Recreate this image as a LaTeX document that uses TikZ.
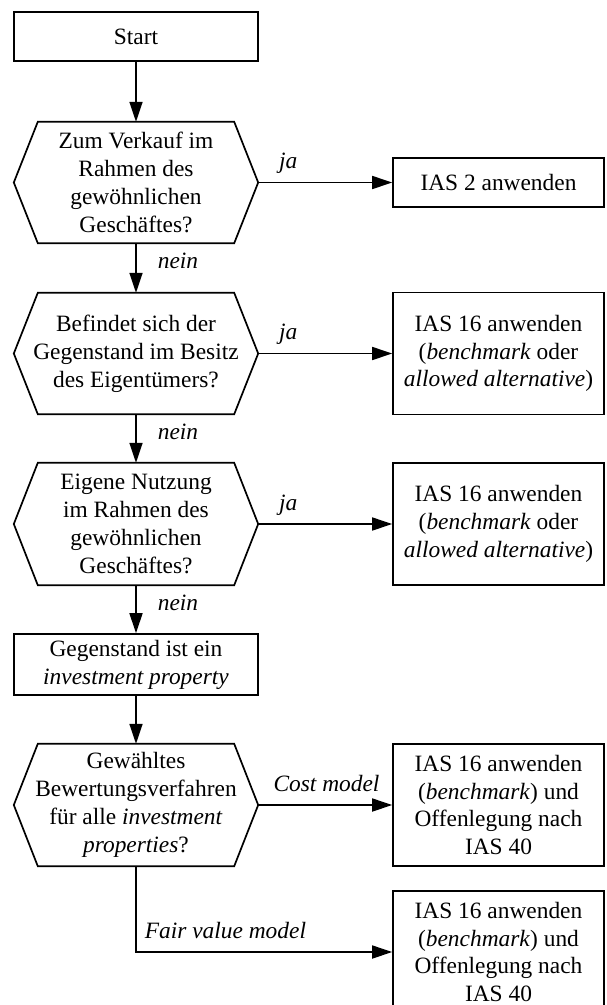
\documentclass[tikz,border=0pt]{standalone}
\usepackage{fontspec}
\setmainfont{Liberation Serif}
\usetikzlibrary{arrows.meta}
\newcommand{\diagfont}{\fontsize{23.4pt}{27.8pt}\selectfont}
\begin{document}
\begin{tikzpicture}[x=1pt,y=-1pt,
  every node/.style={font=\diagfont, align=center, inner sep=0pt},
  flowline/.style={line width=1.7pt, -{Triangle[length=20pt,width=13pt]}},
  procbox/.style={draw, line width=1.7pt, minimum width=211pt},
  decision/.style={minimum width=244pt},
  branchlabel/.style={font=\diagfont\itshape},
  yeslabel/.style={branchlabel, pos=0, anchor=base west, xshift=20pt, yshift=14pt},
  nolabel/.style={branchlabel, pos=.52, anchor=base west, xshift=21pt},
]
\path[use as bounding box, fill=white] (0,0) rectangle (606,1005);
\clip (0,0) rectangle (606,1005);

% main column
\node[procbox, minimum width=244pt, minimum height=49pt] (start) at (136,36.5) {Start};
\node[decision, minimum height=121pt] (q1) at (136,182.5)
  {Zum Verkauf im\\Rahmen des\\gewöhnlichen\\Geschäftes?};
\node[decision, minimum height=121pt] (q2) at (136,353.5)
  {Befindet sich der\\Gegenstand im Besitz\\des Eigentümers?};
\node[decision, minimum height=122pt] (q3) at (136,524)
  {Eigene Nutzung\\im Rahmen des\\gewöhnlichen\\Geschäftes?};
\node[procbox, minimum width=244pt, minimum height=61pt] (inv) at (136,664.5)
  {Gegenstand ist ein\\\textit{investment property}};
\node[decision, minimum height=122pt] (q4) at (136,805)
  {Gewähltes\\Bewertungsverfahren\\für alle \textit{investment}\\\textit{properties}?};

% results
\node[procbox, minimum height=49pt] (r1) at (498.5,182.5) {IAS 2 anwenden};
\node[procbox, minimum height=122pt] (r2) at (498.5,353.5)
  {IAS 16 anwenden\\(\textit{benchmark} oder\\\textit{allowed alternative})};
\node[procbox, minimum height=122pt] (r3) at (498.5,524)
  {IAS 16 anwenden\\(\textit{benchmark} oder\\\textit{allowed alternative})};
\node[procbox, minimum height=122pt] (r4) at (498.5,805)
  {IAS 16 anwenden\\(\textit{benchmark}) und\\Offenlegung nach\\IAS 40};
\node[procbox, minimum height=122pt] (r5) at (498.5,952)
  {IAS 16 anwenden\\(\textit{benchmark}) und\\Offenlegung nach\\IAS 40};

% hexagonal decision outlines
\foreach \q in {q1,q2,q3,q4}
  \draw[line width=1.7pt, line join=miter]
    (\q.west) -- ([xshift=24pt]\q.north west) -- ([xshift=-24pt]\q.north east)
    -- (\q.east) -- ([xshift=-24pt]\q.south east) -- ([xshift=24pt]\q.south west) -- cycle;

% connectors
\draw[flowline] (start) -- (q1);
\draw[flowline] (q1) -- node[yeslabel] {ja} (r1);
\draw[flowline] (q1) -- node[nolabel] {nein} (q2);
\draw[flowline] (q2) -- node[yeslabel] {ja} (r2);
\draw[flowline] (q2) -- node[nolabel] {nein} (q3);
\draw[flowline] (q3) -- node[yeslabel] {ja} (r3);
\draw[flowline] (q3) -- node[nolabel] {nein} (inv);
\draw[flowline] (inv) -- (q4);
\draw[flowline] (q4) -- node[branchlabel, pos=.51, anchor=base, yshift=14pt] {Cost model} (r4);
\draw[flowline] (q4.south) |- node[branchlabel, pos=.5, anchor=base west, xshift=8pt, yshift=14pt] {Fair value model} (r5.west);
\end{tikzpicture}
\end{document}
